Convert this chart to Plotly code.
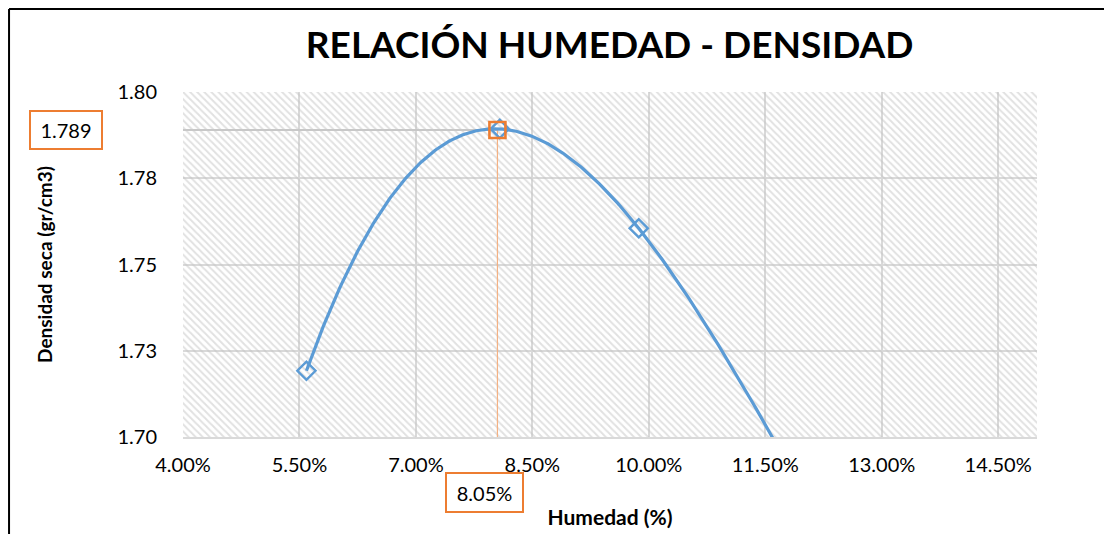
import numpy as np
import plotly.graph_objects as go

# datos del ensayo proctor (el cuarto punto queda bajo el eje, fuera de rango)
humedad = [0.0559, 0.0808, 0.0987, 0.1200]
densidad = [1.7192, 1.7893, 1.7605, 1.6837]

hum_optima = 0.0805
dens_max = 1.789

x_ticks = [0.04, 0.055, 0.07, 0.085, 0.10, 0.115, 0.13, 0.145]
x_ticklabels = ["4.00%", "5.50%", "7.00%", "8.50%", "10.00%", "11.50%", "13.00%", "14.50%"]
y_ticks = [1.70, 1.725, 1.75, 1.775, 1.80]
y_ticklabels = ["1.70", "1.73", "1.75", "1.78", "1.80"]

X_MIN, X_MAX = 0.04, 0.15
Y_MIN, Y_MAX = 1.70, 1.80

AZUL = "#5B9BD5"
NARANJA = "#ED7D31"
GRIS = "#D9D9D9"
FUENTE = "Lato"

# linea de tendencia polinomica (como la de Excel)
coef = np.polyfit(humedad, densidad, 3)
x_tend = np.linspace(min(humedad), max(humedad), 300)
y_tend = np.polyval(coef, x_tend)

fig = go.Figure()

# fondo rayado del area de trazado
fig.add_trace(go.Scatter(
    x=[X_MIN, X_MAX, X_MAX, X_MIN, X_MIN],
    y=[Y_MIN, Y_MIN, Y_MAX, Y_MAX, Y_MIN],
    mode="none", fill="toself", fillcolor="rgba(0,0,0,0)",
    fillpattern=dict(shape="\\", fgcolor="#c4c4c4", bgcolor="rgba(0,0,0,0)",
                     size=5, solidity=0.4),
    hoverinfo="skip", showlegend=False))

# lineas de lectura del optimo
fig.add_trace(go.Scatter(x=[X_MIN, hum_optima], y=[dens_max, dens_max], mode="lines",
                         line=dict(color="#C8C8C8", width=2), showlegend=False))
fig.add_trace(go.Scatter(x=[hum_optima, hum_optima], y=[Y_MIN, dens_max], mode="lines",
                         line=dict(color="#F4B183", width=1.2), showlegend=False))

# curva y puntos
fig.add_trace(go.Scatter(x=x_tend, y=y_tend, mode="lines",
                         line=dict(color=AZUL, width=3.2), showlegend=False))
fig.add_trace(go.Scatter(
    x=humedad, y=densidad, mode="markers",
    marker=dict(symbol="diamond-open", size=14, color=AZUL, line=dict(width=2.4, color=AZUL)),
    cliponaxis=True, showlegend=False))

fig.add_trace(go.Scatter(
    x=[hum_optima], y=[dens_max], mode="markers",
    marker=dict(symbol="square-open", size=16, color=NARANJA, line=dict(width=2.6, color=NARANJA)),
    showlegend=False))

# cuadros de texto
fig.add_annotation(text="1.789", xref="paper", yref="y", x=-0.137, y=dens_max,
                   xanchor="center", yanchor="middle",
                   showarrow=False, font=dict(family=FUENTE, size=20, color="#000"),
                   bgcolor="white", bordercolor=NARANJA, borderwidth=2,
                   width=70, height=36, borderpad=0)
fig.add_annotation(text="8.05%", xref="x", yref="paper", x=hum_optima, y=-0.1623,
                   xanchor="center", yanchor="middle", xshift=-13,
                   showarrow=False, font=dict(family=FUENTE, size=20, color="#000"),
                   bgcolor="white", bordercolor=NARANJA, borderwidth=2,
                   width=75, height=37, borderpad=0)

# marco del grafico
fig.add_shape(type="line", xref="paper", yref="paper", x0=-0.2037, x1=-0.2037, y0=1.2406, y1=-0.35,
              line=dict(color="black", width=2))
fig.add_shape(type="line", xref="paper", yref="paper", x0=-0.2037, x1=1.12, y0=1.2406, y1=1.2406,
              line=dict(color="black", width=2))

fig.update_layout(
    width=1112, height=534,
    margin=dict(l=175, r=83, t=84, b=105),
    paper_bgcolor="white", plot_bgcolor="white",
    font=dict(family=FUENTE, color="#000"),
    title=dict(text="<b>RELACIÓN HUMEDAD - DENSIDAD</b>", x=0.541, xanchor="center",
               y=0.931, yanchor="middle", font=dict(family=FUENTE, size=37, color="#000")),
)
fig.update_xaxes(
    range=[X_MIN, X_MAX], tickvals=x_ticks, ticktext=x_ticklabels,
    showgrid=True, gridcolor=GRIS, gridwidth=2, zeroline=False,
    showline=True, linecolor=GRIS, linewidth=2,
    tickfont=dict(family=FUENTE, size=20, color="#000"), ticklabelstandoff=9,
    title=dict(text="<b>Humedad (%)</b>", font=dict(family=FUENTE, size=21, color="#000"), standoff=35),
)
fig.update_yaxes(
    range=[Y_MIN, Y_MAX], tickvals=y_ticks, ticktext=y_ticklabels,
    showgrid=True, gridcolor=GRIS, gridwidth=2, zeroline=False, showline=False,
    tickfont=dict(family=FUENTE, size=20, color="#000"), ticklabelstandoff=25,
    title=dict(text="<b>Densidad seca (gr/cm3)</b>", font=dict(family=FUENTE, size=19, color="#000"), standoff=59),
)

fig.write_html("out.html")
